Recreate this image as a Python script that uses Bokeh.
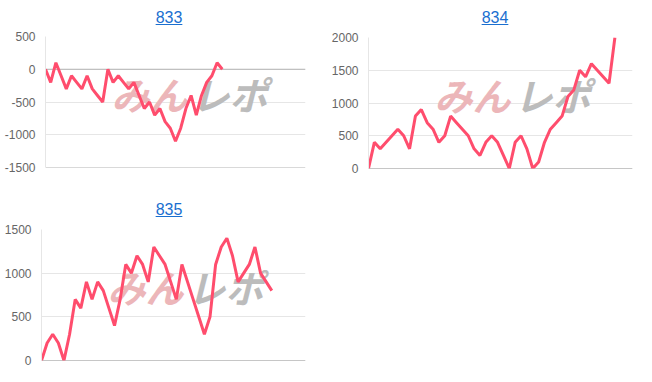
from bokeh.plotting import figure
from bokeh.models import Div, Label, Span, FixedTicker, Range1d
from bokeh.layouts import column, row
from bokeh.embed import file_html
from bokeh.resources import INLINE

# ---- data ----
titles = ["833", "834", "835"]

values_833 = [0, -200, 100, -100, -300, -100, -200, -300, -100, -300, -400, -500,
              0, -200, -100, -200, -300, -200, -400, -600, -500, -700, -600, -800,
              -900, -1100, -900, -600, -400, -700, -400, -200, -100, 100, 0]
values_834 = [0, 400, 300, 400, 500, 600, 500, 300, 800, 900, 700, 600, 400, 500,
              800, 700, 600, 500, 300, 200, 400, 500, 400, 200, 0, 400, 500, 300,
              0, 100, 400, 600, 700, 800, 1100, 1200, 1500, 1400, 1600, 1500, 1400,
              1300, 2000]
values_835 = [0, 200, 300, 200, 0, 300, 700, 600, 900, 700, 900, 800, 600, 400,
              700, 1100, 1000, 1200, 1100, 900, 1300, 1200, 1100, 900, 700, 1100,
              900, 700, 500, 300, 500, 1100, 1300, 1400, 1200, 900, 1000, 1100,
              1300, 1000, 900, 800]

slots = [51, 46, 48]  # number of x categories on each chart

ticks_833 = [-1500, -1000, -500, 0, 500]
ticks_834 = [0, 500, 1000, 1500, 2000]
ticks_835 = [0, 500, 1000, 1500]
tick_labels_833 = ["-1500", "-1000", "-500", "0", "500"]
tick_labels_834 = ["0", "500", "1000", "1500", "2000"]
tick_labels_835 = ["0", "500", "1000", "1500"]

watermark_a = "みん"
watermark_b = "レポ"

LINE_COLOR = "#ff4d6d"
GRID_COLOR = "#e6e6e6"
ZERO_COLOR = "#b4b4b4"
TITLE_COLOR = "#1a6fd0"


def make_title(text, width):
    return Div(
        text=(f'<div style="width:{width}px;text-align:center;padding-top:9px;'
              f'box-sizing:border-box;padding-left:12px;'
              f'font-family:\'Liberation Sans\',Arial,sans-serif;font-size:16px;'
              f'line-height:18px;">'
              f'<a style="color:{TITLE_COLOR};text-decoration:underline;">{text}</a></div>'),
        width=width, height=28, margin=(0, 0, 0, 0))


def make_chart(vals, n_slots, ticks, labels, left, right, top, bottom, frame_w):
    ymin, ymax = ticks[0], ticks[-1]
    p = figure(frame_width=frame_w, frame_height=131,
               x_range=Range1d(0, n_slots - 1), y_range=Range1d(ymin, ymax),
               output_backend="svg", toolbar_location=None,
               min_border_left=left, min_border_right=right,
               min_border_top=top, min_border_bottom=bottom,
               margin=(0, 0, 0, 0))
    p.outline_line_color = None
    p.xaxis.visible = False
    p.xgrid.visible = False
    p.ygrid.ticker = FixedTicker(ticks=ticks)
    p.ygrid.grid_line_color = GRID_COLOR
    yax = p.yaxis[0]
    yax.ticker = FixedTicker(ticks=ticks)
    yax.major_label_overrides = {t: l for t, l in zip(ticks, labels)}
    yax.major_tick_out = 0
    yax.major_tick_in = 0
    yax.minor_tick_out = 0
    yax.minor_tick_in = 0
    yax.major_label_standoff = 10
    yax.axis_line_color = GRID_COLOR
    yax.major_label_text_color = "#666666"
    yax.major_label_text_font = "Liberation Sans"
    yax.major_label_text_font_size = "12px"

    p.add_layout(Span(location=0, dimension="width", line_color=ZERO_COLOR,
                      line_width=1, level="underlay"))
    p.add_layout(Span(location=ymin, dimension="width", line_color=ZERO_COLOR,
                      line_width=1, level="underlay"))

    p.add_layout(Label(x=104, y=74, x_units="screen", y_units="screen",
                       text=watermark_a, text_align="center", text_baseline="middle",
                       text_font="Noto Sans CJK JP", text_font_style="bold italic",
                       text_font_size="38px", text_color="#ecb6b9", level="underlay"))
    p.add_layout(Label(x=184, y=74, x_units="screen", y_units="screen",
                       text=watermark_b, text_align="center", text_baseline="middle",
                       text_font="Noto Sans CJK JP", text_font_style="bold italic",
                       text_font_size="38px", text_color="#bcbcbc", level="underlay"))

    xs = list(range(len(vals)))
    p.line(xs, vals, line_color=LINE_COLOR, line_width=3)
    return p


p1 = make_chart(values_833, slots[0], ticks_833, tick_labels_833, 45, 21, 8, 25, 260)
p2 = make_chart(values_834, slots[1], ticks_834, tick_labels_834, 42, 20, 9, 24, 264)
p3 = make_chart(values_835, slots[2], ticks_835, tick_labels_835, 41, 21, 9, 22, 264)

layout = column(
    row(column(make_title(titles[0], 326), p1, margin=(0, 0, 0, 0)),
        column(make_title(titles[1], 326), p2, margin=(0, 0, 0, 0)),
        margin=(0, 0, 0, 0)),
    row(column(make_title(titles[2], 326), p3, margin=(0, 0, 0, 0)),
        margin=(0, 0, 0, 0)),
    margin=(0, 0, 0, 0))

open("out.html", "w").write(file_html(layout, INLINE))
